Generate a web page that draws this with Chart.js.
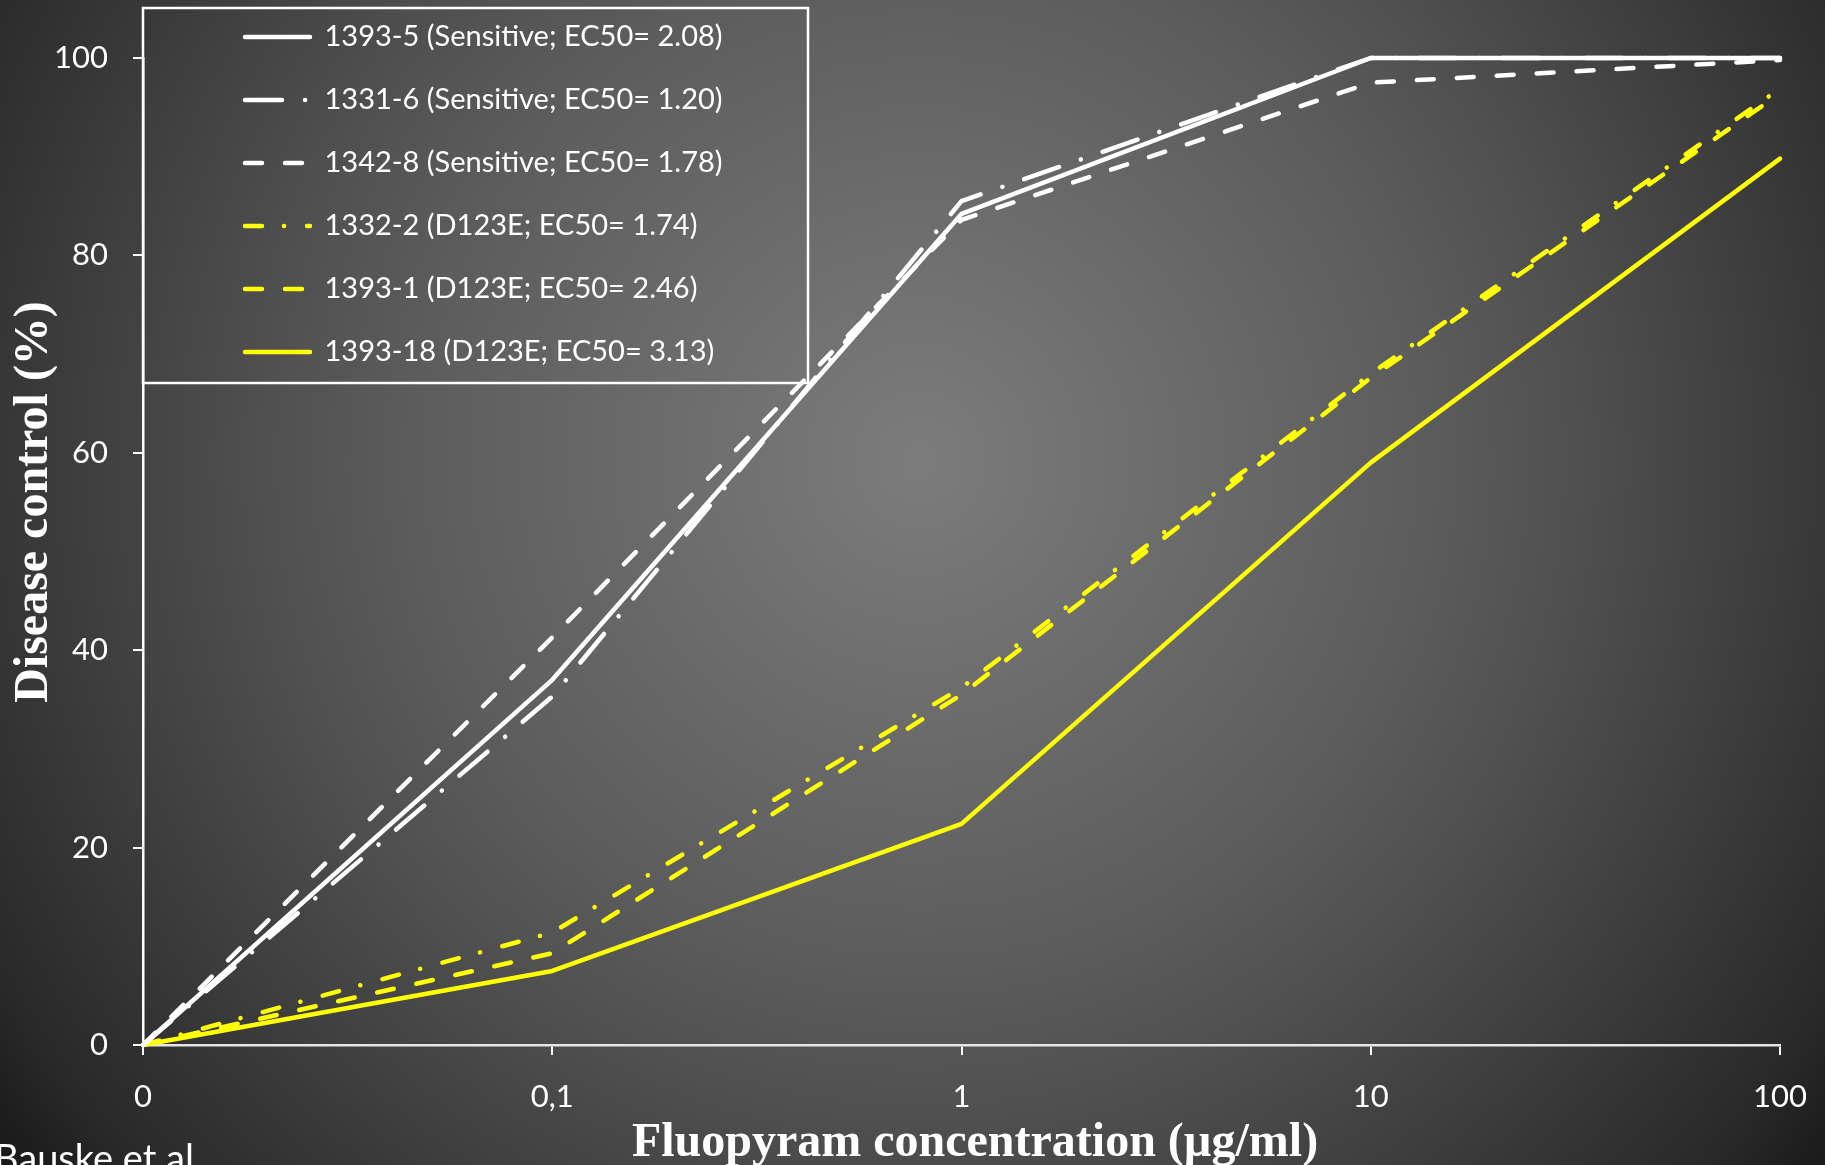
<!DOCTYPE html>
<html><head><meta charset="utf-8">
<script src="https://cdn.jsdelivr.net/npm/chart.js@4.4.1/dist/chart.umd.min.js"></script>
<style>html,body{margin:0;padding:0;background:#2a2a2a;overflow:hidden;}canvas{display:block;}</style>
</head><body>
<canvas id="c" width="1825" height="1165"></canvas>
<script>
// ---- data ----
const categories = ['0', '0,1', '1', '10', '100'];
const seriesLabels = [
  '1393-5 (Sensitive; EC50= 2.08)',
  '1331-6 (Sensitive; EC50= 1.20)',
  '1342-8 (Sensitive; EC50= 1.78)',
  '1332-2 (D123E; EC50= 1.74)',
  '1393-1 (D123E; EC50= 2.46)',
  '1393-18 (D123E; EC50= 3.13)'
];
const s1393_5  = [0, 37.0, 84.2, 100, 100];
const s1331_6  = [0, 35.3, 85.5, 100, 100];
const s1342_8  = [0, 41.3, 83.6, 97.5, 99.8];
const s1332_2  = [0, 11.4, 36.2, 68.0, 96.9];
const s1393_1  = [0, 9.3, 35.5, 67.6, 96.4];
const s1393_18 = [0, 7.5, 22.4, 59.0, 89.8];
const yTickValues = [0, 20, 40, 60, 80, 100];
const xTitle = 'Fluopyram concentration (µg/ml)';
const yTitle = 'Disease control (%)';
const sourceNote = 'Bauske et al';

const WHITE = '#ffffff', YELLOW = '#ffff00';
const LW = 4.5;
const mk = (label, data, color, dash) => ({
  label, data, borderColor: color, backgroundColor: color, borderWidth: LW,
  borderDash: dash, borderCapStyle: 'round', borderJoinStyle: 'round',
  pointRadius: 0, pointHoverRadius: 0, fill: false, tension: 0, clip: 8
});

const TITLE_FONT = 'bold 48px "Liberation Serif", "Times New Roman", serif';

const bgPlugin = {
  id: 'bg',
  beforeDraw(chart) {
    const {ctx, width, height} = chart;
    const g = ctx.createRadialGradient(920, 460, 0, 920, 460, 1210);
    g.addColorStop(0, '#7c7c7c');
    g.addColorStop(0.42, '#5c5c5c');
    g.addColorStop(0.54, '#505050');
    g.addColorStop(0.72, '#3b3b3b');
    g.addColorStop(0.81, '#303030');
    g.addColorStop(0.87, '#292929');
    g.addColorStop(0.93, '#1d1d1d');
    g.addColorStop(1, '#151515');
    ctx.save(); ctx.fillStyle = g; ctx.fillRect(0, 0, width, height); ctx.restore();
  }
};

const decorations = {
  id: 'decorations',
  afterLayout(chart) {
    const lg = chart.legend;
    const w = lg.width, h = lg.height;
    lg.left = 211; lg.top = -11.5;
    lg.right = lg.left + w; lg.bottom = lg.top + h;
  },
  afterDraw(chart) {
    const ctx = chart.ctx;
    const ca = chart.chartArea;
    ctx.save();
    // legend frame
    ctx.strokeStyle = '#ffffff';
    ctx.lineWidth = 2.5;
    ctx.strokeRect(ca.left, 8, 665, 375);
    // axis titles
    ctx.fillStyle = '#ffffff';
    ctx.font = TITLE_FONT;
    ctx.textAlign = 'center';
    ctx.textBaseline = 'alphabetic';
    ctx.fillText(xTitle, 975, 1156);
    ctx.save();
    ctx.translate(35, 502);
    ctx.rotate(-Math.PI / 2);
    ctx.textBaseline = 'middle';
    ctx.fillText(yTitle, 0, 0);
    ctx.restore();
    // source note
    ctx.font = '38px Lato';
    ctx.textAlign = 'left';
    ctx.textBaseline = 'alphabetic';
    ctx.fillText(sourceNote, -6, 1172);
    ctx.restore();
  }
};

new Chart(document.getElementById('c'), {
  type: 'line',
  data: {
    labels: categories,
    datasets: [
      mk(seriesLabels[0], s1393_5, WHITE, []),
      mk(seriesLabels[1], s1331_6, WHITE, [37, 23, 0.1, 23]),
      mk(seriesLabels[2], s1342_8, WHITE, [17, 23]),
      mk(seriesLabels[3], s1332_2, YELLOW, [17, 22, 0.1, 23]),
      mk(seriesLabels[4], s1393_1, YELLOW, [17, 23]),
      mk(seriesLabels[5], s1393_18, YELLOW, [])
    ]
  },
  plugins: [bgPlugin, decorations],
  options: {
    responsive: false, animation: false, devicePixelRatio: 1,
    layout: {padding: {top: 58, right: 45, left: 0, bottom: 0}},
    plugins: {
      tooltip: {enabled: false},
      legend: {
        position: 'chartArea', align: 'start',
        labels: {
          color: '#ffffff', font: {family: 'Lato', size: 29},
          usePointStyle: true, pointStyle: 'line', pointStyleWidth: 65,
          boxHeight: 4, padding: 34,
          generateLabels(chart) {
            return chart.data.datasets.map((ds, i) => ({
              text: ds.label, fillStyle: ds.borderColor, strokeStyle: ds.borderColor,
              lineWidth: ds.borderWidth, lineDash: ds.borderDash, lineDashOffset: 0,
              lineCap: 'round', lineJoin: 'round', pointStyle: 'line',
              hidden: false, datasetIndex: i, fontColor: '#ffffff'
            }));
          }
        }
      }
    },
    scales: {
      x: {
        type: 'category', offset: false,
        grid: {display: true, drawOnChartArea: false, drawTicks: true, tickLength: 10, color: '#ffffff', lineWidth: 2},
        border: {display: true, color: '#e6e6e6', width: 2.5},
        ticks: {color: '#ffffff', font: {family: 'Lato', size: 31}, padding: 23, maxRotation: 0, autoSkip: false},
        title: {display: false},
        afterFit(s) { s.height = 120; s.paddingLeft = 0; s.paddingRight = 0; }
      },
      y: {
        min: 0, max: 100,
        afterBuildTicks(s) { s.ticks = yTickValues.map(v => ({value: v})); },
        grid: {display: true, drawOnChartArea: false, drawTicks: true, tickLength: 10, color: '#ffffff', lineWidth: 2},
        border: {display: true, color: '#ffffff', width: 2.5},
        ticks: {color: '#ffffff', font: {family: 'Lato', size: 31}, padding: 25},
        title: {display: false},
        afterFit(s) { s.width = 143; }
      }
    }
  }
});
</script>
</body></html>
